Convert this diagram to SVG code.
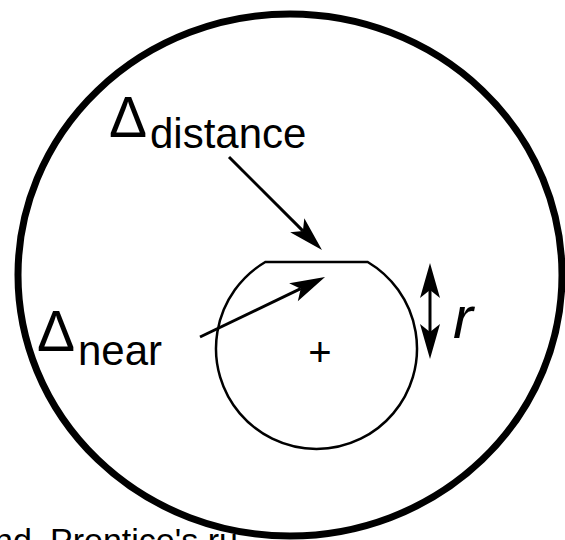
<svg xmlns="http://www.w3.org/2000/svg" width="565" height="540" viewBox="0 0 565 540">
  <style>
    .t { font-family: "Liberation Sans", Arial, sans-serif; fill: #000; }
    .ln { stroke: #000; stroke-width: 3; fill: none; }
  </style>
  <defs>
    <marker id="ah" markerUnits="userSpaceOnUse" markerWidth="40" markerHeight="26" viewBox="-10 -13 40 26" refX="0" refY="0" orient="auto-start-reverse">
      <path d="M27,0 L-8,-10 L0,0 L-8,10 Z" fill="#000"/>
    </marker>
  </defs>
  <rect width="565" height="540" fill="#fff"/>

  <g id="caption">
    <text class="t" font-size="34" y="552"><tspan x="-6">nd</tspan><tspan x="50">Prentice's ru</tspan></text>
  </g>

  <g id="outer-region">
    <ellipse cx="290" cy="275" rx="272" ry="261" fill="none" stroke="#000" stroke-width="7"/>
  </g>

  <g id="inner-region">
    <path d="M265.3,262 L367.7,262 A100.5,100.5 0 1 1 265.3,262 Z" fill="none" stroke="#000" stroke-width="2.5"/>
    <text class="t" font-size="40" x="320" y="366" text-anchor="middle">+</text>
  </g>

  <g id="label-distance">
    <text class="t" y="137"><tspan x="109" font-size="57">Δ</tspan><tspan x="150" y="148" font-size="42">distance</tspan></text>
  </g>

  <g id="label-near">
    <text class="t" y="351"><tspan x="37" font-size="57">Δ</tspan><tspan x="78" y="365" font-size="42">near</tspan></text>
  </g>

  <g id="label-r">
    <text class="t" font-size="60" font-style="italic" x="453" y="338">r</text>
  </g>

  <g id="connectors">
    <line class="ln" x1="229" y1="157" x2="302.9" y2="230.9" marker-end="url(#ah)"/>
    <line class="ln" x1="200" y1="337" x2="300.7" y2="288.7" marker-end="url(#ah)"/>
    <line class="ln" x1="430" y1="290" x2="430" y2="332" marker-start="url(#ah)" marker-end="url(#ah)"/>
  </g>
</svg>
